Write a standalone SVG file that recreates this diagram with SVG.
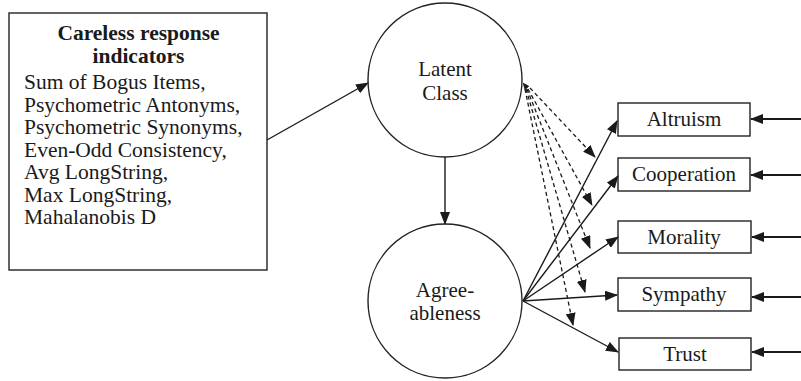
<svg xmlns="http://www.w3.org/2000/svg" width="801" height="381" viewBox="0 0 801 381">
<defs>
<marker id="ah" markerWidth="13" markerHeight="10" refX="12" refY="5" orient="auto" markerUnits="userSpaceOnUse">
<path d="M0,0 L13,5 L0,10 Z" fill="#1a1a1a"/>
</marker>
<marker id="ahs" markerWidth="7" markerHeight="6" refX="6.5" refY="3" orient="auto" markerUnits="userSpaceOnUse">
<path d="M0,0 L7,3 L0,6 Z" fill="#1a1a1a"/>
</marker>
</defs>
<style>
.t{font-family:"Liberation Serif","Times New Roman",serif;font-size:21px;fill:#1a1a1a}
.l{font-size:21.5px}
.c{text-anchor:middle}
.b{font-weight:bold}
.shape{fill:#fff;stroke:#222;stroke-width:1.4}
.ln{fill:none;stroke:#1a1a1a;stroke-width:1.4}
.ds{fill:none;stroke:#1a1a1a;stroke-width:1.3;stroke-dasharray:4,3}
.in{fill:none;stroke:#1a1a1a;stroke-width:2}
</style>
<g id="indicators">
<rect class="shape" x="9" y="13" width="258" height="257"/>
<text class="t l c b" x="138.5" y="40">Careless response</text>
<text class="t l c b" x="138.5" y="63">indicators</text>
<text class="t l" x="24" y="89">Sum of Bogus Items,</text>
<text class="t l" x="24" y="112">Psychometric Antonyms,</text>
<text class="t l" x="24" y="134">Psychometric Synonyms,</text>
<text class="t l" x="24" y="157">Even-Odd Consistency,</text>
<text class="t l" x="24" y="179">Avg LongString,</text>
<text class="t l" x="24" y="202">Max LongString,</text>
<text class="t l" x="24" y="224">Mahalanobis D</text>
</g>
<g id="latent-class">
<circle class="shape" cx="445" cy="80" r="77"/>
<text class="t c" x="445" y="76">Latent</text>
<text class="t c" x="445" y="100">Class</text>
</g>
<g id="agreeableness">
<circle class="shape" cx="445" cy="301" r="77"/>
<text class="t c" x="445" y="297">Agree-</text>
<text class="t c" x="445" y="320">ableness</text>
</g>
<g id="altruism">
<rect class="shape" x="618" y="103" width="132" height="33"/>
<text class="t c" x="684" y="126">Altruism</text>
</g>
<g id="cooperation">
<rect class="shape" x="618" y="158" width="132" height="33"/>
<text class="t c" x="684" y="181">Cooperation</text>
</g>
<g id="morality">
<rect class="shape" x="618" y="221" width="133" height="32"/>
<text class="t c" x="684" y="244">Morality</text>
</g>
<g id="sympathy">
<rect class="shape" x="618" y="278" width="133" height="33"/>
<text class="t c" x="684" y="301">Sympathy</text>
</g>
<g id="trust">
<rect class="shape" x="619" y="338" width="132" height="32"/>
<text class="t c" x="685" y="361">Trust</text>
</g>
<g id="connectors">
<line class="ln" x1="267" y1="140" x2="368" y2="83" marker-end="url(#ah)"/>
<line class="ln" x1="445" y1="157" x2="445" y2="224" marker-end="url(#ah)"/>
<line class="ln" x1="523" y1="301" x2="617" y2="121" marker-end="url(#ah)"/>
<line class="ln" x1="523" y1="301" x2="618" y2="176" marker-end="url(#ah)"/>
<line class="ln" x1="523" y1="301" x2="618" y2="237" marker-end="url(#ah)"/>
<line class="ln" x1="523" y1="301" x2="617" y2="295" marker-end="url(#ah)"/>
<line class="ln" x1="523" y1="301" x2="618" y2="352" marker-end="url(#ah)"/>
<line class="ds" x1="527" y1="88" x2="523" y2="83" marker-end="url(#ahs)"/>
<line class="ds" x1="530" y1="88" x2="595" y2="157" marker-end="url(#ah)"/>
<line class="ds" x1="528" y1="89" x2="592" y2="205" marker-end="url(#ah)"/>
<line class="ds" x1="527" y1="89" x2="590" y2="248" marker-end="url(#ah)"/>
<line class="ds" x1="526" y1="89" x2="585" y2="292" marker-end="url(#ah)"/>
<line class="ds" x1="525" y1="89" x2="573" y2="325" marker-end="url(#ah)"/>
<line class="in" x1="801" y1="119" x2="751" y2="119" marker-end="url(#ah)"/>
<line class="in" x1="801" y1="175" x2="751" y2="175" marker-end="url(#ah)"/>
<line class="in" x1="801" y1="237" x2="752" y2="237" marker-end="url(#ah)"/>
<line class="in" x1="801" y1="297" x2="752" y2="297" marker-end="url(#ah)"/>
<line class="in" x1="801" y1="352" x2="752" y2="352" marker-end="url(#ah)"/>
</g>
</svg>
